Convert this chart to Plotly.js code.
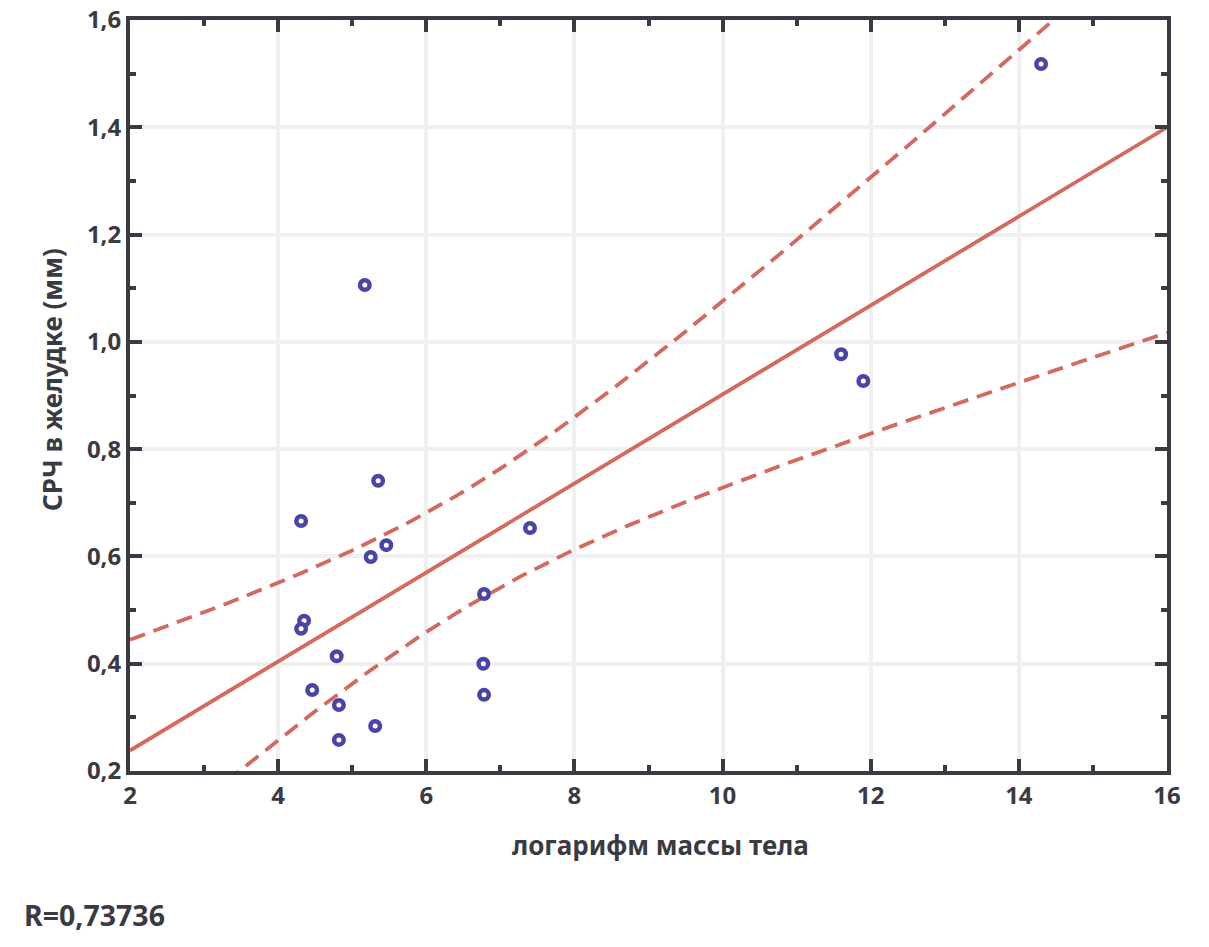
<!DOCTYPE html>
<html>
<head>
<meta charset="utf-8">
<script src="https://cdn.plot.ly/plotly-3.0.1.min.js"></script>
<style>html,body{margin:0;padding:0;background:#fff;}#chart{width:1209px;height:947px;}</style>
</head>
<body>
<div id="chart"></div>
<script>
// Data
const logMass = [4.31, 4.35, 4.31, 4.46, 4.79, 4.82, 4.82, 5.17, 5.25, 5.35, 5.46, 5.31, 6.78, 6.77, 6.78, 7.40, 11.60, 11.90, 14.30];
const srch    = [0.666, 0.480, 0.465, 0.351, 0.414, 0.323, 0.258, 1.106, 0.599, 0.741, 0.621, 0.284, 0.530, 0.400, 0.342, 0.653, 0.977, 0.927, 1.518];
const xTicks = [2, 4, 6, 8, 10, 12, 14, 16];
const yTicks = [0.2, 0.4, 0.6, 0.8, 1.0, 1.2, 1.4, 1.6];
const rLabel = "R=0,73736";
const xTitle = "логарифм массы тела";
const yTitle = "СРЧ в желудке (мм)";

// Linear regression with 95% confidence band for the mean, derived from the data
const n = logMass.length;
const mx = logMass.reduce((a, b) => a + b, 0) / n;
const my = srch.reduce((a, b) => a + b, 0) / n;
let sxx = 0, sxy = 0;
for (let i = 0; i < n; i++) { sxx += (logMass[i] - mx) ** 2; sxy += (logMass[i] - mx) * (srch[i] - my); }
const slope = sxy / sxx, icpt = my - slope * mx;
let sse = 0;
for (let i = 0; i < n; i++) sse += (srch[i] - (icpt + slope * logMass[i])) ** 2;
const s = Math.sqrt(sse / (n - 2));
const tCrit = 2.1098; // t(0.975, df=17)
const fx = [], fy = [], up = [], lo = [];
for (let k = 0; k <= 140; k++) {
  const x = 2 + k * 0.1;
  const yh = icpt + slope * x;
  const hw = tCrit * s * Math.sqrt(1 / n + (x - mx) ** 2 / sxx);
  fx.push(x); fy.push(yh); up.push(yh + hw); lo.push(yh - hw);
}

const lineCol = '#d4695f';
const dark = '#3a3a42';
const fam = '"Noto Sans", "Open Sans", sans-serif';

const traces = [
  {x: fx, y: up, mode: 'lines', line: {color: lineCol, width: 3.8, dash: '16px,9px'}, hoverinfo: 'skip'},
  {x: fx, y: lo, mode: 'lines', line: {color: lineCol, width: 3.8, dash: '16px,9px'}, hoverinfo: 'skip'},
  {x: fx, y: fy, mode: 'lines', line: {color: lineCol, width: 3.8}, hoverinfo: 'skip'},
  {x: logMass, y: srch, mode: 'markers', marker: {symbol: 'circle', size: 9.5, color: '#ffffff', line: {color: '#4a44a8', width: 4.5}}}
];

const axisCommon = {
  showline: true, linecolor: dark, linewidth: 4, mirror: 'allticks',
  ticks: 'inside', ticklen: 12, tickwidth: 4, tickcolor: dark,
  showgrid: true, gridcolor: '#f0f0f0', gridwidth: 4,
  zeroline: false,
  tickfont: {family: fam, color: dark, size: 24, weight: 'bold'}
};

const titleFont = {family: fam, color: dark, size: 26, weight: 'bold'};

const layout = {
  width: 1209, height: 947,
  margin: {l: 130, r: 42, t: 20, b: 176},
  paper_bgcolor: '#ffffff', plot_bgcolor: '#ffffff',
  showlegend: false,
  separators: ', ',
  xaxis: Object.assign({}, axisCommon, {
    range: [2, 16], tickvals: xTicks, ticktext: xTicks.map(String),
    minor: {ticks: 'inside', ticklen: 6, tickwidth: 4, tickcolor: dark, dtick: 1, tick0: 0, showgrid: false}
  }),
  yaxis: Object.assign({}, axisCommon, {
    range: [0.2, 1.6], tickvals: yTicks, ticktext: yTicks.map(v => v.toFixed(1).replace('.', ',')),
    minor: {ticks: 'inside', ticklen: 6, tickwidth: 4, tickcolor: dark, dtick: 0.1, tick0: 0, showgrid: false}
  }),
  annotations: [
    {text: xTitle, xref: 'paper', yref: 'paper', x: 0.512, y: -0.0985,
     xanchor: 'center', yanchor: 'middle', showarrow: false, font: titleFont},
    {text: yTitle, xref: 'paper', yref: 'paper', x: -0.0752, y: 0.5206, textangle: -90,
     xanchor: 'center', yanchor: 'middle', showarrow: false, font: titleFont},
    {text: rLabel, xref: 'paper', yref: 'paper', x: -0.104, y: -0.192,
     xanchor: 'left', yanchor: 'middle', showarrow: false,
     font: {family: fam, color: dark, size: 28.5, weight: 'bold'}}
  ]
};

Plotly.newPlot('chart', traces, layout, {displayModeBar: false, staticPlot: true});
</script>
</body>
</html>
